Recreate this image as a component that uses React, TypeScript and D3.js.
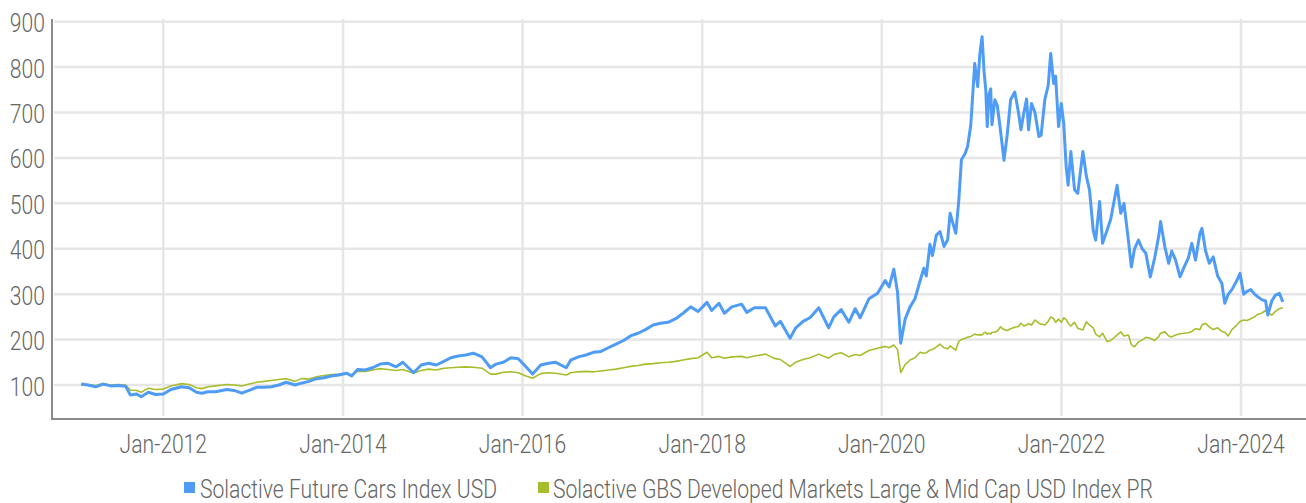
import React from 'react';
import * as d3 from 'd3';

// readings (index level, rebased to 100)
const dates = [
  '2011-02-01', '2011-03-01', '2011-04-01', '2011-05-01', '2011-06-01', '2011-07-01', '2011-08-01', '2011-08-20', '2011-09-15', '2011-10-03', '2011-11-01', '2011-12-01',
  '2012-01-01', '2012-02-01', '2012-03-15', '2012-04-15', '2012-05-15', '2012-06-05', '2012-07-01', '2012-08-01', '2012-09-15', '2012-10-15', '2012-11-15', '2012-12-15',
  '2013-01-15', '2013-02-15', '2013-03-15', '2013-04-15', '2013-05-15', '2013-06-20', '2013-07-15', '2013-08-15', '2013-09-15', '2013-10-15', '2013-11-15', '2013-12-15',
  '2014-01-15', '2014-02-05', '2014-03-01', '2014-04-01', '2014-05-01', '2014-06-01', '2014-07-01', '2014-08-05', '2014-09-01', '2014-10-15', '2014-11-15', '2014-12-15',
  '2015-01-15', '2015-02-15', '2015-03-15', '2015-04-15', '2015-05-15', '2015-06-15', '2015-07-20', '2015-08-24', '2015-09-15', '2015-10-15', '2015-11-15', '2015-12-15',
  '2016-01-15', '2016-02-11', '2016-03-15', '2016-04-15', '2016-05-15', '2016-06-27', '2016-07-15', '2016-08-15', '2016-09-15', '2016-10-15', '2016-11-15', '2016-12-15',
  '2017-01-15', '2017-02-15', '2017-03-15', '2017-04-15', '2017-05-15', '2017-06-15', '2017-07-15', '2017-08-15', '2017-09-15', '2017-10-15', '2017-11-15', '2017-12-15',
  '2018-01-20', '2018-02-08', '2018-03-10', '2018-04-01', '2018-05-01', '2018-06-10', '2018-07-01', '2018-08-01', '2018-09-15', '2018-10-25', '2018-11-15', '2018-12-24',
  '2019-01-15', '2019-02-15', '2019-03-15', '2019-04-20', '2019-05-30', '2019-06-20', '2019-07-20', '2019-08-20', '2019-09-15', '2019-10-05', '2019-11-10', '2019-12-15',
  '2020-01-15', '2020-01-31', '2020-02-19', '2020-03-05', '2020-03-18', '2020-04-05', '2020-04-25', '2020-05-15', '2020-06-05', '2020-06-20', '2020-06-30', '2020-07-15',
  '2020-07-25', '2020-08-10', '2020-08-25', '2020-09-10', '2020-09-25', '2020-10-05', '2020-10-28', '2020-11-09', '2020-11-20', '2020-12-05', '2020-12-15', '2020-12-28',
  '2021-01-13', '2021-01-25', '2021-02-03', '2021-02-12', '2021-02-20', '2021-02-27', '2021-03-05', '2021-03-12', '2021-03-19', '2021-03-24', '2021-04-05', '2021-04-15',
  '2021-04-28', '2021-05-12', '2021-05-25', '2021-06-08', '2021-06-25', '2021-07-10', '2021-07-20', '2021-08-01', '2021-08-12', '2021-08-20', '2021-09-01', '2021-09-15',
  '2021-10-01', '2021-10-10', '2021-10-25', '2021-11-08', '2021-11-18', '2021-11-30', '2021-12-08', '2021-12-20', '2021-12-31',
  '2022-01-10', '2022-01-20', '2022-01-28', '2022-02-08', '2022-02-23', '2022-03-08', '2022-03-29', '2022-04-12', '2022-04-25', '2022-05-10', '2022-05-20', '2022-06-05',
  '2022-06-17', '2022-07-05', '2022-07-20', '2022-08-15', '2022-08-30', '2022-09-12', '2022-09-30', '2022-10-12', '2022-10-25', '2022-11-10', '2022-11-25', '2022-12-10', '2022-12-28',
  '2023-01-15', '2023-02-01', '2023-02-08', '2023-02-25', '2023-03-13', '2023-03-25', '2023-04-10', '2023-04-28', '2023-05-15', '2023-06-01', '2023-06-15', '2023-06-30',
  '2023-07-18', '2023-07-26', '2023-08-10', '2023-08-25', '2023-09-10', '2023-09-28', '2023-10-15', '2023-10-27', '2023-11-10', '2023-11-25', '2023-12-15', '2023-12-28',
  '2024-01-12', '2024-01-25', '2024-02-10', '2024-02-25', '2024-03-10', '2024-03-25', '2024-04-10', '2024-04-19', '2024-05-05', '2024-05-20', '2024-06-05', '2024-06-19',
];

const futureCars = [
  102, 100, 96, 102, 98, 99, 97, 78, 80, 74, 84, 79,
  80, 90, 96, 94, 84, 82, 85, 85, 90, 88, 82, 88,
  95, 95, 96, 100, 106, 100, 104, 108, 114, 116, 120, 122,
  126, 120, 134, 133, 138, 146, 148, 140, 150, 127, 144, 148,
  144, 152, 160, 164, 166, 170, 162, 138, 146, 150, 160, 158,
  140, 124, 144, 148, 150, 138, 155, 162, 166, 172, 174, 182,
  190, 198, 208, 214, 222, 232, 236, 238, 246, 258, 272, 262,
  282, 264, 280, 258, 272, 278, 260, 270, 270, 230, 240, 203,
  225, 240, 248, 270, 226, 250, 266, 238, 268, 248, 290, 302,
  330, 316, 355, 305, 192, 245, 272, 290, 330, 357, 340, 410,
  385, 430, 438, 405, 420, 478, 434, 505, 596, 610, 625, 672,
  808, 757, 830, 867, 790, 750, 669, 740, 752, 673, 728, 715,
  660, 595, 650, 728, 745, 700, 662, 700, 730, 662, 720, 700,
  647, 650, 728, 760, 830, 764, 780, 669, 720,
  676, 580, 540, 614, 530, 522, 614, 560, 529, 440, 419, 504,
  412, 440, 465, 540, 478, 500, 419, 360, 400, 419, 400, 390, 338,
  380, 430, 460, 405, 368, 395, 375, 338, 360, 380, 412, 375,
  434, 445, 395, 368, 382, 340, 324, 280, 300, 310, 330, 346,
  300, 306, 310, 300, 294, 288, 285, 254, 285, 298, 302, 283,
];

const gbsDeveloped = [
  100, 101, 99, 103, 100, 101, 100, 89, 88, 84, 93, 90,
  91, 98, 103, 101, 94, 92, 96, 98, 101, 100, 98, 102,
  106, 108, 110, 112, 114, 108, 114, 113, 118, 121, 123, 124,
  126, 122, 130, 130, 133, 136, 134, 132, 134, 126, 132, 135,
  133, 137, 138, 139, 140, 139, 137, 124, 124, 128, 129, 127,
  120, 115, 125, 127, 126, 122, 127, 129, 130, 129, 131, 133,
  135, 138, 141, 143, 146, 147, 149, 150, 152, 155, 158, 160,
  172, 160, 163, 159, 162, 163, 160, 164, 168, 158, 156, 141,
  150, 156, 160, 168, 159, 167, 171, 162, 167, 165, 176, 181,
  185, 182, 188, 178, 127, 145, 155, 160, 172, 170, 171, 177,
  178, 184, 190, 182, 180, 186, 177, 196, 200, 203, 205, 207,
  212, 210, 211, 210, 215, 216, 212, 214, 212, 216, 216, 219,
  228, 222, 220, 224, 227, 229, 236, 230, 232, 235, 232, 243,
  236, 234, 232, 240, 250, 246, 238, 245, 238, 248,
  244, 236, 230, 238, 225, 221, 239, 232, 226, 212, 206, 214,
  196, 198, 210, 217, 208, 210, 189, 184, 195, 199, 205, 203, 198,
  207, 214, 217, 208, 206, 210, 213, 214, 215, 218, 224, 222,
  232, 236, 228, 222, 226, 218, 216, 208, 222, 232, 240, 243,
  242, 246, 250, 256, 258, 264, 260, 254, 262, 268, 270, 272,
];

const yTicks = [100, 200, 300, 400, 500, 600, 700, 800, 900];
const xTickYears = [2012, 2014, 2016, 2018, 2020, 2022, 2024];
const seriesNames = [
  'Solactive Future Cars Index USD',
  'Solactive GBS Developed Markets Large & Mid Cap USD Index PR',
];

const WIDTH = 1306;
const HEIGHT = 503;
const FONT = "Roboto, 'Liberation Sans', sans-serif";
const BLUE = '#4f9cf6';
const GREEN = '#a8bd2c';
const TEXT = '#666';

// no narrow face installed, so squeeze a regular one horizontally
function Narrow({ x, y, anchor = 'start', children }: { x: number; y: number; anchor?: string; children: React.ReactNode }) {
  return (
    <text
      transform={`translate(${x},${y}) scale(0.845,1)`}
      textAnchor={anchor}
      fontFamily={FONT}
      fontWeight={300}
      fontSize={25}
      fill={TEXT}
    >
      {children}
    </text>
  );
}

export default function App() {
  const parse = d3.timeParse('%Y-%m-%d');
  const times = dates.map((d) => parse(d) as Date);

  const x = d3.scaleTime()
    .domain([new Date(2012, 0, 1), new Date(2024, 0, 1)])
    .range([163.3, 1241]);
  const y = d3.scaleLinear().domain([100, 900]).range([385, 21.7]);

  const line = d3.line<[Date, number]>()
    .x((d) => x(d[0]))
    .y((d) => y(d[1]));

  const blueD = line(times.map((t, i) => [t, futureCars[i]])) || '';
  const greenD = line(times.map((t, i) => [t, gbsDeveloped[i]])) || '';

  const axisX = 52;
  const axisY = 419;

  return (
    <>
      <style>{'body{margin:0}'}</style>
      <svg width={WIDTH} height={HEIGHT} style={{ display: 'block', background: '#fff' }}>
        {/* grid */}
        {yTicks.map((t) => (
          <line key={'h' + t} x1={axisX + 2} x2={WIDTH} y1={y(t)} y2={y(t)} stroke="#e6e6e6" strokeWidth={2.5} />
        ))}
        {xTickYears.map((yr) => {
          const px = x(new Date(yr, 0, 1));
          return <line key={'v' + yr} x1={px} x2={px} y1={19} y2={416} stroke="#e6e6e6" strokeWidth={2.5} />;
        })}

        {/* axes */}
        <line x1={axisX} x2={axisX} y1={19} y2={axisY + 1} stroke="#8a8a8a" strokeWidth={2} />
        <line x1={axisX} x2={WIDTH} y1={axisY} y2={axisY} stroke="#8a8a8a" strokeWidth={2} />

        {yTicks.map((t) => (
          <Narrow key={'yl' + t} x={45} y={y(t) + 10.5} anchor="end">{t}</Narrow>
        ))}
        {xTickYears.map((yr) => (
          <Narrow key={'xl' + yr} x={x(new Date(yr, 0, 1))} y={453} anchor="middle">{'Jan-' + yr}</Narrow>
        ))}

        {/* series */}
        <path d={greenD} fill="none" stroke={GREEN} strokeWidth={1.6} strokeLinejoin="round" />
        <path d={blueD} fill="none" stroke={BLUE} strokeWidth={3} strokeLinejoin="round" />

        {/* legend */}
        <rect x={184} y={482} width={11} height={11} fill={BLUE} />
        <Narrow x={200} y={498}>{seriesNames[0]}</Narrow>
        <rect x={538} y={482} width={11} height={11} fill={GREEN} />
        <Narrow x={553} y={498}>{seriesNames[1]}</Narrow>
      </svg>
    </>
  );
}
